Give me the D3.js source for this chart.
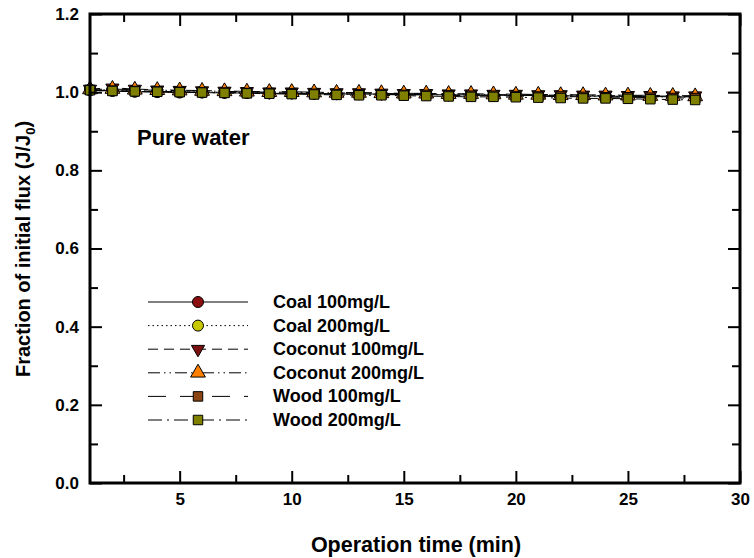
<!DOCTYPE html>
<html><head><meta charset="utf-8">
<script src="https://cdn.jsdelivr.net/npm/d3@7"></script>
<style>body{margin:0;background:#fff}svg{display:block}text{font-family:"Liberation Sans",Arial,sans-serif;font-weight:bold}</style>
</head><body>
<svg id="c" width="754" height="558"></svg>
<script>
const times = [1,2,3,4,5,6,7,8,9,10,11,12,13,14,15,16,17,18,19,20,21,22,23,24,25,26,27,28];
const seriesNames = ["Coal 100mg/L","Coal 200mg/L","Coconut 100mg/L","Coconut 200mg/L","Wood 100mg/L","Wood 200mg/L"];
const coal100 = [1.005,1.003,1.001,1.000,0.999,0.999,0.998,0.998,0.997,0.997,0.996,0.996,0.995,0.995,0.994,0.994,0.993,0.993,0.992,0.992,0.991,0.991,0.990,0.990,0.989,0.989,0.988,0.988];
const coal200 = [1.006,1.005,1.003,1.002,1.001,1.000,1.000,0.999,0.998,0.998,0.997,0.996,0.996,0.995,0.995,0.994,0.993,0.993,0.992,0.992,0.991,0.990,0.990,0.989,0.989,0.988,0.988,0.987];
const coconut100 = [1.008,1.011,1.008,1.006,1.005,1.004,1.003,1.002,1.001,1.001,1.000,0.999,0.999,0.998,0.997,0.997,0.996,0.996,0.995,0.995,0.994,0.994,0.993,0.993,0.992,0.992,0.991,0.991];
const coconut200 = [1.007,1.008,1.006,1.005,1.004,1.003,1.002,1.001,1.000,1.000,0.999,0.998,0.998,0.997,0.996,0.996,0.995,0.995,0.994,0.993,0.993,0.992,0.992,0.991,0.991,0.990,0.990,0.989];
const wood100 = [1.006,1.004,1.003,1.002,1.001,1.000,0.999,0.998,0.998,0.997,0.996,0.995,0.995,0.994,0.993,0.993,0.992,0.991,0.991,0.990,0.989,0.989,0.988,0.987,0.987,0.986,0.985,0.985];
const wood200 = [1.005,1.003,1.002,1.001,1.000,0.999,0.998,0.997,0.996,0.995,0.994,0.993,0.992,0.992,0.991,0.990,0.989,0.988,0.988,0.987,0.986,0.985,0.984,0.984,0.983,0.982,0.981,0.980];
const xTicks = [5,10,15,20,25,30];
const yTicks = [0.0,0.2,0.4,0.6,0.8,1.0,1.2];

const seriesValues = [coal100,coal200,coconut100,coconut200,wood100,wood200];
const fills = ["#8b0f0f","#c8c800","#7a1010","#ff8000","#8b4513","#808000"];
const symbols = [d3.symbolCircle,d3.symbolCircle,"down",d3.symbolTriangle,d3.symbolSquare,d3.symbolSquare];
const dashes = ["none","1.5,3","10,6","12,4,1.5,4,1.5,4","18,14","14,5,2,5"];

const svg = d3.select("#c");
const L=90,R=740,T=14,B=483;
const x = d3.scaleLinear().domain([1,30]).range([L,R]);
const y = d3.scaleLinear().domain([0,1.2]).range([B,T]);

function sym(i){
  if(symbols[i]==="down") return d3.symbol().type(d3.symbolTriangle).size(75)();
  const sz = symbols[i]===d3.symbolSquare?90:95;
  return d3.symbol().type(symbols[i]).size(sz)();
}
function rot(i){return symbols[i]==="down"?" rotate(180)":"";}

// data
const line = d3.line().x((d,i)=>x(times[i])).y(d=>y(d));
seriesValues.forEach((vals,i)=>{
  svg.append("path").attr("d",line(vals)).attr("fill","none").attr("stroke","#000")
    .attr("stroke-width",1).attr("stroke-dasharray",dashes[i]);
});
seriesValues.forEach((vals,i)=>{
  svg.append("g").selectAll("path").data(vals).join("path")
    .attr("d",sym(i))
    .attr("transform",(d,j)=>`translate(${x(times[j])},${y(d)})${rot(i)}`)
    .attr("fill",fills[i]).attr("stroke","#000").attr("stroke-width",1);
});

// axes (ticks inward on all sides)
const xMinor = d3.range(2.5,30,5);
const yMinor = d3.range(0.1,1.2,0.2);
svg.append("g").attr("transform",`translate(0,${B})`)
  .call(d3.axisBottom(x).tickValues(xTicks).tickSize(-12).tickPadding(10).tickFormat(d3.format("d")));
svg.append("g").attr("transform",`translate(0,${B})`).call(d3.axisBottom(x).tickValues(xMinor).tickSize(-8).tickFormat(""));
svg.append("g").attr("transform",`translate(0,${T})`).call(d3.axisTop(x).tickValues(xTicks).tickSize(-12).tickFormat(""));
svg.append("g").attr("transform",`translate(0,${T})`).call(d3.axisTop(x).tickValues(xMinor).tickSize(-8).tickFormat(""));
svg.append("g").attr("transform",`translate(${L},0)`)
  .call(d3.axisLeft(y).tickValues(yTicks).tickSize(-12).tickPadding(11).tickFormat(d3.format(".1f")));
svg.append("g").attr("transform",`translate(${L},0)`).call(d3.axisLeft(y).tickValues(yMinor).tickSize(-8).tickFormat(""));
svg.append("g").attr("transform",`translate(${R},0)`).call(d3.axisRight(y).tickValues(yTicks).tickSize(-12).tickFormat(""));
svg.append("g").attr("transform",`translate(${R},0)`).call(d3.axisRight(y).tickValues(yMinor).tickSize(-8).tickFormat(""));
svg.selectAll(".domain").remove();
svg.selectAll(".tick line").attr("stroke","#000").attr("stroke-width",2);
svg.selectAll(".tick text").attr("font-size",17).attr("fill","#000").attr("font-weight","bold")
  .attr("font-family",'"Liberation Sans",Arial,sans-serif');
svg.append("rect").attr("x",L).attr("y",T).attr("width",R-L).attr("height",B-T)
  .attr("fill","none").attr("stroke","#000").attr("stroke-width",3);

// labels
svg.append("text").attr("x",416).attr("y",552).attr("text-anchor","middle").attr("font-size",21.5).text("Operation time (min)");
const yl = svg.append("text").attr("transform","translate(30,249) rotate(-90)").attr("text-anchor","middle").attr("font-size",20);
yl.append("tspan").text("Fraction of initial flux (J/J");
yl.append("tspan").attr("font-size",13).attr("dy",5).text("0");
yl.append("tspan").attr("dy",-5).text(")");
svg.append("text").attr("x",137).attr("y",145).attr("font-size",22).text("Pure water");

// legend
const lg = svg.append("g");
seriesNames.forEach((n,i)=>{
  const yy = 302 + i*23.6;
  lg.append("line").attr("x1",148).attr("x2",248).attr("y1",yy).attr("y2",yy)
    .attr("stroke","#000").attr("stroke-width",1).attr("stroke-dasharray",dashes[i]);
  lg.append("path").attr("d",sym(i)).attr("transform",`translate(198,${yy})${rot(i)}`)
    .attr("fill",fills[i]).attr("stroke","#000").attr("stroke-width",1);
  lg.append("text").attr("x",273).attr("y",yy+6).attr("font-size",18).text(n);
});
</script>
</body></html>
